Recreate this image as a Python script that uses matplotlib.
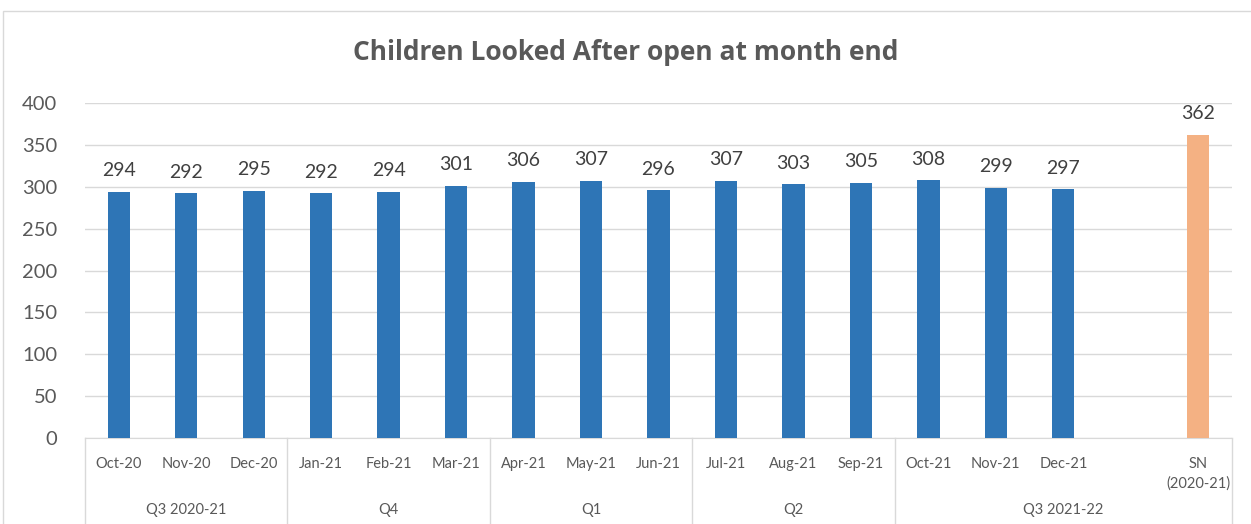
import matplotlib.pyplot as plt
from matplotlib.patches import Rectangle
from matplotlib.transforms import blended_transform_factory

# chart data
months = ["Oct-20", "Nov-20", "Dec-20", "Jan-21", "Feb-21", "Mar-21",
          "Apr-21", "May-21", "Jun-21", "Jul-21", "Aug-21", "Sep-21",
          "Oct-21", "Nov-21", "Dec-21", "", "SN\n(2020-21)"]
values = [294, 292, 295, 292, 294, 301, 306, 307, 296, 307, 303, 305,
          308, 299, 297, None, 362]
groups = ["Q3 2020-21", "Q4", "Q1", "Q2", "Q3 2021-22"]
group_sizes = [3, 3, 3, 3, 5]

BLUE = "#2E75B6"
ORANGE = "#F4B183"
GREY = "#595959"

plt.rcParams['font.family'] = ['Lato', 'DejaVu Sans']

fig = plt.figure(figsize=(12.51, 5.24), dpi=100)
# outer chart frame
fig.patches.append(Rectangle((3 / 1251, -0.01), 1.02, 1 - 11 / 524 + 0.01,
                             transform=fig.transFigure, fill=False,
                             edgecolor="#D9D9D9", linewidth=1))

ax = fig.add_axes([85 / 1251, 1 - 438 / 524, (1232 - 85) / 1251, (438 - 103) / 524])

xs = list(range(len(months)))
for x, v in zip(xs, values):
    if v is None:
        continue
    color = ORANGE if months[x].startswith("SN") else BLUE
    ax.bar(x, v, width=0.33, color=color, zorder=3)
    ax.annotate(str(v), (x, v), xytext=(0, 9), textcoords="offset points",
                ha="center", va="bottom", fontsize=14, color="#404040")

ax.set_xlim(-0.5, len(months) - 0.5)
ax.set_ylim(0, 400)
ax.set_yticks(range(0, 401, 50))
ax.grid(axis="y", color="#D9D9D9", linewidth=1, zorder=0)
ax.tick_params(axis="y", length=0, labelsize=14.5, labelcolor=GREY, pad=20)
ax.set_xticks(xs)
ax.set_xticklabels(months, fontsize=10.5, color=GREY, va="top", linespacing=1.4)
ax.tick_params(axis="x", length=0, pad=14)
for s in ["top", "right", "left"]:
    ax.spines[s].set_visible(False)
ax.spines["bottom"].set_color("#D9D9D9")

# group separators and labels below the axis
trans = blended_transform_factory(ax.transData, ax.transAxes)
drop = -(524 - 438) / 335
pos = -0.5
ax.plot([pos, pos], [0, drop], transform=trans, color="#D9D9D9", lw=1, clip_on=False)
for name, size in zip(groups, group_sizes):
    end = pos + size
    ax.plot([end, end], [0, drop], transform=trans, color="#D9D9D9", lw=1, clip_on=False)
    ax.text((pos + end) / 2, -(510 - 438) / 335, name, transform=trans,
            ha="center", va="center", fontsize=10.5, color=GREY)
    pos = end

fig.text(0.5, 1 - 53 / 524, "Children Looked After open at month end",
         ha="center", va="center", fontsize=19, fontweight="bold", color=GREY,
         family=["Open Sans", "DejaVu Sans"])

fig.savefig("out.png", dpi=100)
